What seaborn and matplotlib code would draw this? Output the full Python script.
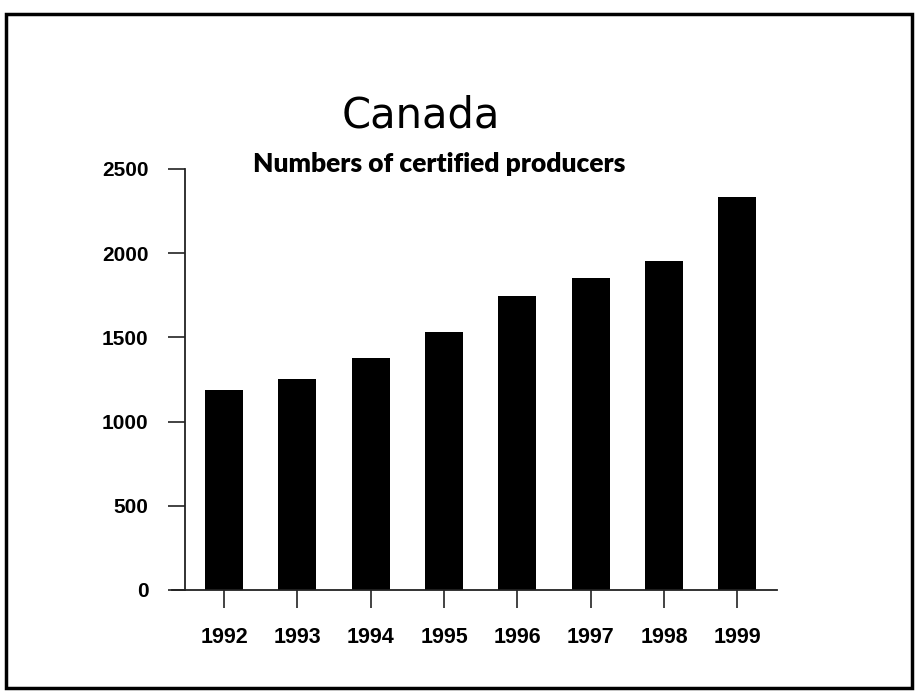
import matplotlib
matplotlib.use("Agg")
import matplotlib.pyplot as plt
import seaborn as sns
import pandas as pd
from matplotlib.patches import Rectangle

years = ["1992", "1993", "1994", "1995", "1996", "1997", "1998", "1999"]
producers = [1185, 1255, 1375, 1530, 1745, 1850, 1955, 2335]
y_ticks = [0, 500, 1000, 1500, 2000, 2500]

title = "Canada"
subtitle = "Numbers of certified producers"

df = pd.DataFrame({"year": years, "producers": producers})

sns.set_style("ticks")
plt.rcParams["font.family"] = ["Liberation Sans", "DejaVu Sans"]

fig = plt.figure(figsize=(9.18, 6.94), dpi=100)
ax = fig.add_axes([0.1874, 0.1499, 0.659, 0.6066])

sns.barplot(data=df, x="year", y="producers", color="black", width=0.52,
            saturation=1, ax=ax, edgecolor="black", linewidth=0)

ax.set_xlim(-0.71, 7.54)
ax.set_ylim(0, 2500)
ax.set_yticks(y_ticks)
ax.set_xlabel("")
ax.set_ylabel("")

for s in ["top", "right"]:
    ax.spines[s].set_visible(False)
ax.spines["left"].set_position(("data", -0.53))
for s in ["left", "bottom"]:
    ax.spines[s].set_linewidth(1.3)
    ax.spines[s].set_color("#222222")

ax.tick_params(axis="y", direction="out", length=12.5, width=1.2, color="#222222",
               pad=14)
ax.tick_params(axis="x", direction="out", length=13, width=1.2, color="#222222",
               pad=14)
for lab in ax.get_yticklabels():
    lab.set_fontfamily("Liberation Sans")
    lab.set_fontweight("bold")
    lab.set_fontsize(15)
    lab.set_color("black")
for lab in ax.get_xticklabels():
    lab.set_fontfamily("Liberation Sans")
    lab.set_fontweight("bold")
    lab.set_fontsize(15.5)
    lab.set_color("black")

fig.text(0.4586, 0.817, title, ha="center", va="baseline", fontsize=30,
         family="DejaVu Sans", color="black")
fig.text(0.478, 0.752, subtitle, ha="center", va="baseline", fontsize=19,
         family="Lato", fontweight="heavy", color="black")

fig.patches.append(Rectangle((6 / 918, 1 - 688 / 694), 906 / 918, 674 / 694,
                             transform=fig.transFigure, fill=False,
                             edgecolor="black", linewidth=2.5))

fig.savefig("out.png", dpi=100)
